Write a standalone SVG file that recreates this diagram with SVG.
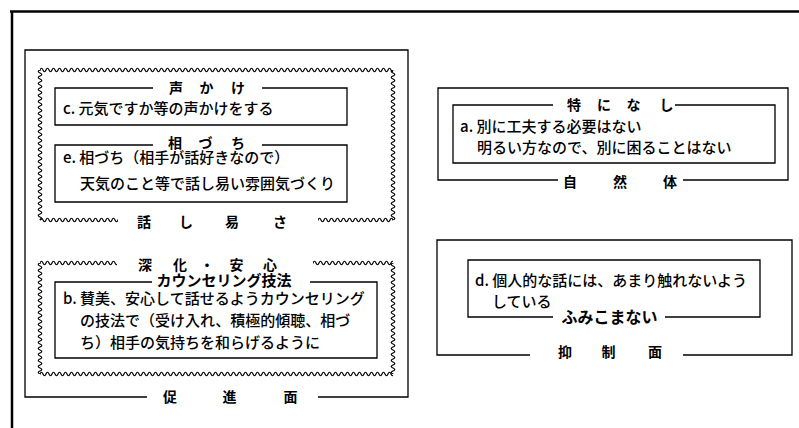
<svg xmlns="http://www.w3.org/2000/svg" width="799" height="428" viewBox="0 0 799 428">
<style>
.ln{fill:none;stroke:#000;stroke-width:1.3}
.body{font-family:"Noto Sans CJK JP","Noto Sans",sans-serif;font-size:15px;font-weight:500;fill:#000}
.lbl{font-family:"Noto Sans CJK JP","Noto Sans",sans-serif;font-size:14px;font-weight:bold;fill:#000}
</style>
<defs>
<pattern id="wh" patternUnits="userSpaceOnUse" width="6" height="8"><path d="M-3 4 Q-1.5 7.5 0 4 Q1.5 0.5 3 4 Q4.5 7.5 6 4 Q7.5 0.5 9 4" fill="none" stroke="#000" stroke-width="1.2"/></pattern>
<pattern id="wv" patternUnits="userSpaceOnUse" width="8" height="6"><path d="M4 -3 Q7.5 -1.5 4 0 Q0.5 1.5 4 3 Q7.5 4.5 4 6 Q0.5 7.5 4 9" fill="none" stroke="#000" stroke-width="1.2"/></pattern>
</defs>
<rect width="799" height="428" fill="#fff"/>
<g id="frame"><path d="M10 11.5 H799 M12 11 V428" fill="none" stroke="#000" stroke-width="2.5"/></g>

<g id="sokushin">
<path class="ln" d="M147 397 H25 V50 H408 V397 H318"/>
<text class="lbl" x="163 222.5 283.5" y="402">促進面</text>
</g>

<g id="hanashiyasusa">
<rect transform="translate(40,66)" width="353" height="8" fill="url(#wh)"/>
<rect transform="translate(36,70)" width="8" height="150" fill="url(#wv)"/>
<rect transform="translate(389,70)" width="8" height="150" fill="url(#wv)"/>
<rect transform="translate(40,216)" width="78" height="8" fill="url(#wh)"/>
<rect transform="translate(318,216)" width="75" height="8" fill="url(#wh)"/>
<text class="lbl" x="137 179 225 273" y="227">話し易さ</text>
</g>

<g id="koekake">
<path class="ln" d="M153 88 H55 V125 H347 V88 H262"/>
<text class="lbl" x="169 199.5 231" y="93">声かけ</text>
<text class="body" x="63" y="114">c. 元気ですか等の声かけをする</text>
</g>

<g id="aizuchi">
<path class="ln" d="M153 145 H55 V202 H347 V145 H262"/>
<text class="lbl" x="168 198.5 231" y="148">相づち</text>
<text class="body" x="63" y="163">e. 相づち（相手が話好きなので）</text>
<text class="body" x="80" y="189">天気のこと等で話し易い雰囲気づくり</text>
</g>

<g id="shinka">
<rect transform="translate(40,259)" width="77" height="8" fill="url(#wh)"/>
<rect transform="translate(313,259)" width="80" height="8" fill="url(#wh)"/>
<rect transform="translate(36,263)" width="8" height="111" fill="url(#wv)"/>
<rect transform="translate(389,263)" width="8" height="111" fill="url(#wv)"/>
<rect transform="translate(40,370)" width="353" height="8" fill="url(#wh)"/>
<text class="lbl" x="138 173 200 229.5 263" y="269.5">深化・安心</text>
</g>

<g id="counseling">
<path class="ln" d="M152 282 H55 V358 H377 V282 H310"/>
<text class="lbl" x="224" y="286" text-anchor="middle" style="font-size:15px">カウンセリング技法</text>
<text class="body" x="63" y="304">b. 賛美、安心して話せるようカウンセリング</text>
<text class="body" x="80" y="326">の技法で（受け入れ、積極的傾聴、相づ</text>
<text class="body" x="80" y="348">ち）相手の気持ちを和らげるように</text>
</g>

<g id="shizentai">
<path class="ln" d="M558 180 H438 V88 H788 V180 H683"/>
<text class="lbl" x="563 613 663" y="186.5">自然体</text>
</g>

<g id="tokuninashi">
<path class="ln" d="M553 105 H453 V163 H775 V105 H675"/>
<text class="lbl" x="567 597 626.5 659.5" y="110">特になし</text>
<text class="body" x="460" y="131.5">a. 別に工夫する必要はない</text>
<text class="body" x="477" y="152.5">明るい方なので、別に困ることはない</text>
</g>

<g id="yokusei">
<path class="ln" d="M530 355 H437 V240 H792 V355 H683"/>
<text class="lbl" x="558 601.5 648" y="357">抑制面</text>
</g>

<g id="fumikomanai">
<path class="ln" d="M553 317 H468 V260 H760 V317 H665"/>
<text class="lbl" x="609.5" y="323" text-anchor="middle" style="font-size:16px">ふみこまない</text>
<text class="body" x="475" y="285.5">d. 個人的な話には、あまり触れないよう</text>
<text class="body" x="492" y="307">している</text>
</g>
</svg>
